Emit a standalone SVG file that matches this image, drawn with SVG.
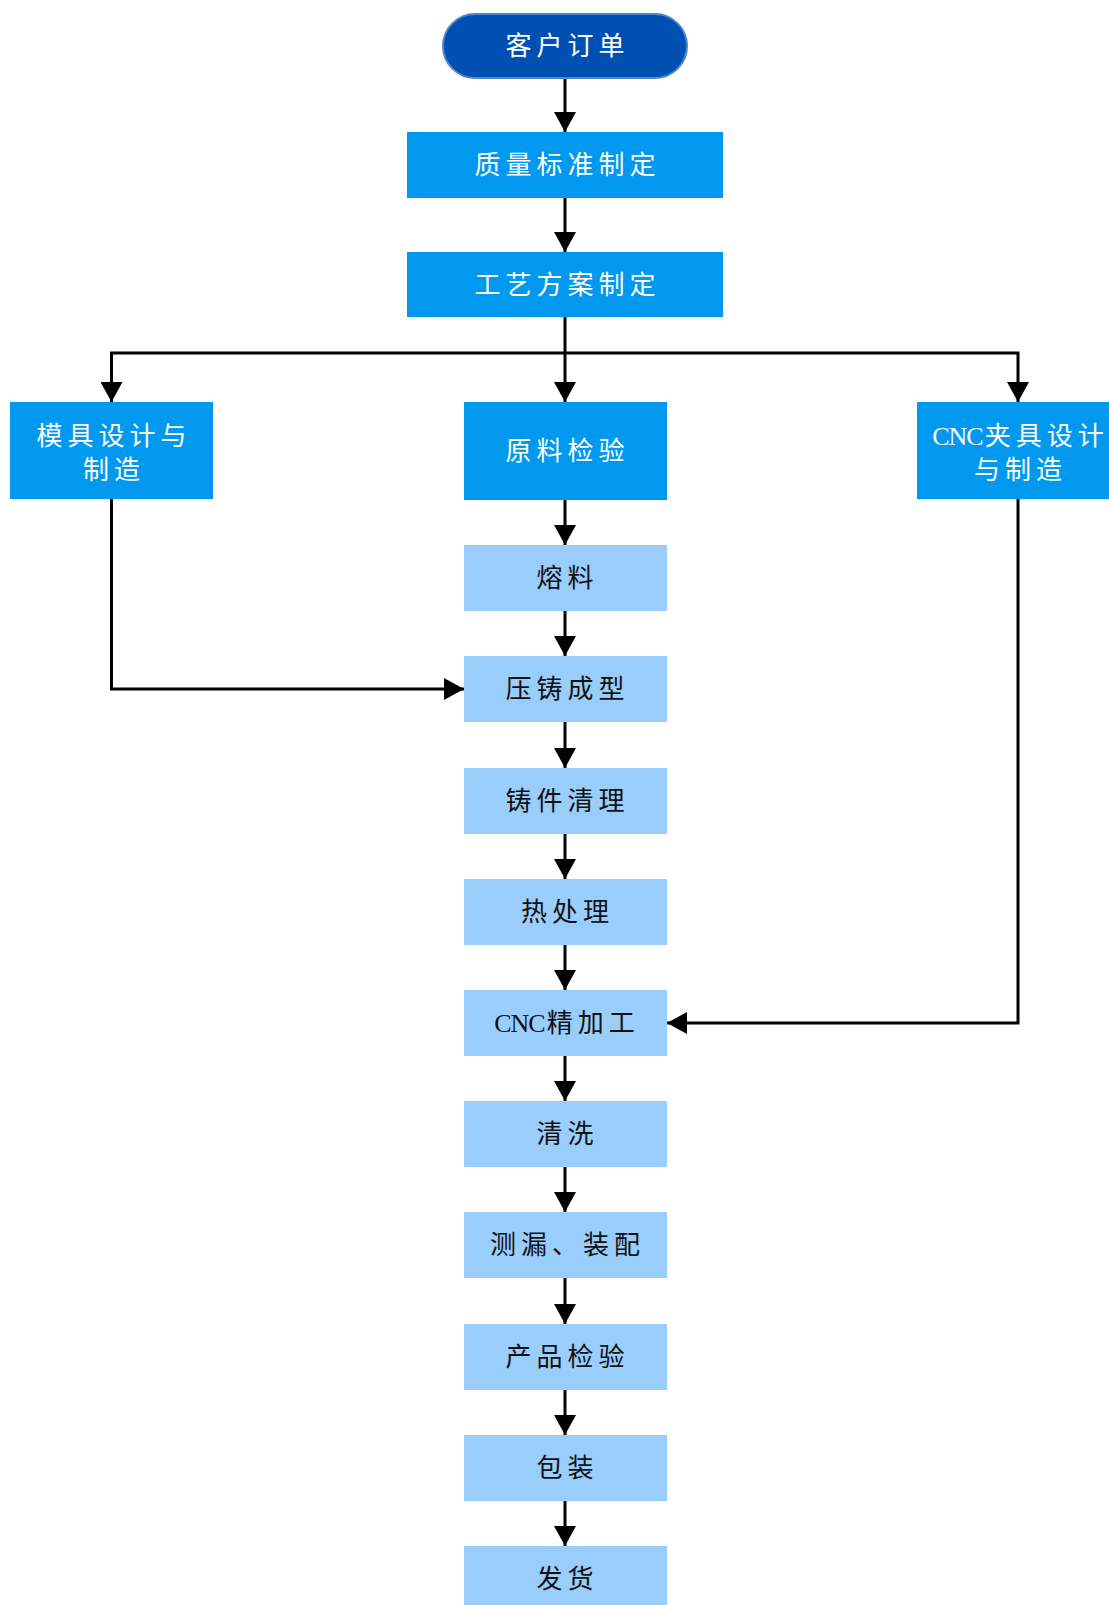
<svg xmlns="http://www.w3.org/2000/svg" width="1109" height="1605" viewBox="0 0 1109 1605">
<style>
.dark{fill:#0050B4;stroke:#4A88CC;stroke-width:2}
.mid{fill:#0099EF}
.light{fill:#99CDFB}
.wt{fill:#FFFFFF;font-family:"Liberation Serif","Noto Sans CJK SC",sans-serif;font-size:26px;letter-spacing:5px;text-anchor:middle}
.bt{fill:#111111;font-family:"Liberation Serif","Noto Sans CJK SC",serif;font-size:26px;letter-spacing:5px;text-anchor:middle}
.lat{letter-spacing:-1px}
.cjk{letter-spacing:5px}
.ln{fill:none;stroke:#000;stroke-width:3}
</style>
<defs>
<marker id="arr" markerUnits="userSpaceOnUse" markerWidth="22" markerHeight="22" viewBox="0 0 22 22" refX="20" refY="11" orient="auto">
<path d="M0,0 L20,11 L0,22 Z" fill="#000"/>
</marker>
</defs>
<g id="connectors">
<path class="ln" d="M565,78 V132" marker-end="url(#arr)"/>
<path class="ln" d="M565,198 V252" marker-end="url(#arr)"/>
<path class="ln" d="M565,317 V402" marker-end="url(#arr)"/>
<path class="ln" d="M565,353 H111.5 V402" marker-end="url(#arr)"/>
<path class="ln" d="M565,353 H1018 V402" marker-end="url(#arr)"/>
<path class="ln" d="M565,500 V545" marker-end="url(#arr)"/>
<path class="ln" d="M565,611 V656" marker-end="url(#arr)"/>
<path class="ln" d="M565,722 V768" marker-end="url(#arr)"/>
<path class="ln" d="M565,834 V879" marker-end="url(#arr)"/>
<path class="ln" d="M565,945 V990" marker-end="url(#arr)"/>
<path class="ln" d="M565,1056 V1101" marker-end="url(#arr)"/>
<path class="ln" d="M565,1167 V1212" marker-end="url(#arr)"/>
<path class="ln" d="M565,1278 V1324" marker-end="url(#arr)"/>
<path class="ln" d="M565,1390 V1435" marker-end="url(#arr)"/>
<path class="ln" d="M565,1501 V1546" marker-end="url(#arr)"/>
<path class="ln" d="M111.5,499 V689 H464" marker-end="url(#arr)"/>
<path class="ln" d="M1018,499 V1023 H667" marker-end="url(#arr)"/>
</g>
<g id="n-order"><rect class="dark" x="443" y="14" width="244" height="64" rx="32"/><text class="wt" x="567.5" y="55">客户订单</text></g>
<g id="n-quality"><rect class="mid" x="407" y="132" width="316" height="66"/><text class="wt" x="567.5" y="174">质量标准制定</text></g>
<g id="n-process"><rect class="mid" x="407" y="252" width="316" height="65"/><text class="wt" x="567.5" y="294">工艺方案制定</text></g>
<g id="n-mold"><rect class="mid" x="10" y="402" width="203" height="97"/><text class="wt" x="114" y="445">模具设计与</text><text class="wt" x="114" y="479">制造</text></g>
<g id="n-material"><rect class="mid" x="464" y="402" width="203" height="98"/><text class="wt" x="567.5" y="460">原料检验</text></g>
<g id="n-fixture"><rect class="mid" x="917" y="402" width="202" height="97"/><text class="wt" x="1020.5" y="445"><tspan class="lat">CNC</tspan><tspan class="cjk" dx="2">夹具设计</tspan></text><text class="wt" x="1020.5" y="479">与制造</text></g>
<g id="n-melt"><rect class="light" x="464" y="545" width="203" height="66"/><text class="bt" x="567.5" y="587">熔料</text></g>
<g id="n-diecast"><rect class="light" x="464" y="656" width="203" height="66"/><text class="bt" x="567.5" y="698">压铸成型</text></g>
<g id="n-clean1"><rect class="light" x="464" y="768" width="203" height="66"/><text class="bt" x="567.5" y="810">铸件清理</text></g>
<g id="n-heat"><rect class="light" x="464" y="879" width="203" height="66"/><text class="bt" x="567.5" y="921">热处理</text></g>
<g id="n-cnc"><rect class="light" x="464" y="990" width="203" height="66"/><text class="bt" x="567" y="1032"><tspan class="lat">CNC</tspan><tspan class="cjk" dx="2">精加工</tspan></text></g>
<g id="n-wash"><rect class="light" x="464" y="1101" width="203" height="66"/><text class="bt" x="567.5" y="1143">清洗</text></g>
<g id="n-leak"><rect class="light" x="464" y="1212" width="203" height="66"/><text class="bt" x="567.5" y="1254">测漏、装配</text></g>
<g id="n-inspect"><rect class="light" x="464" y="1324" width="203" height="66"/><text class="bt" x="567.5" y="1366">产品检验</text></g>
<g id="n-pack"><rect class="light" x="464" y="1435" width="203" height="66"/><text class="bt" x="567.5" y="1477">包装</text></g>
<g id="n-ship"><rect class="light" x="464" y="1546" width="203" height="66"/><text class="bt" x="567.5" y="1588">发货</text></g>
</svg>
